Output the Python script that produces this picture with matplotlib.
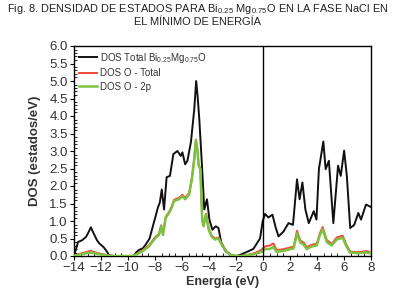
import matplotlib
matplotlib.use("Agg")
import matplotlib.pyplot as plt
from matplotlib.ticker import MultipleLocator

# ---------------- data ----------------
E_total = [-14, -13.85, -13.7, -13.4, -13.1, -12.9, -12.75, -12.55, -12.3, -12.1, -11.8, -11.55,
           -11.4, -11.0, -10.0, -9.6, -9.4, -9.2, -8.9, -8.7, -8.4, -8.23, -7.96, -7.79, -7.64,
           -7.5, -7.33, -7.14, -6.89, -6.64, -6.34, -6.09, -5.97, -5.77, -5.6, -5.34, -5.09,
           -4.95, -4.85, -4.72, -4.52, -4.35, -4.15, -3.97, -3.75, -3.5, -3.3, -3.1, -2.8, -2.4,
           -2.0, -1.7, -1.3, -0.72, -0.22, -0.02, 0.15, 0.4, 0.7, 0.95, 1.15, 1.52, 1.89, 2.22,
           2.52, 2.71, 2.92, 3.14, 3.39, 3.76, 3.96, 4.14, 4.47, 4.64, 4.88, 5.21, 5.56, 5.76,
           6.01, 6.21, 6.46, 6.76, 7.06, 7.26, 7.63, 8.0]
dos_total = [0.0, 0.2, 0.4, 0.45, 0.55, 0.7, 0.82, 0.65, 0.45, 0.35, 0.25, 0.12,
             0.02, 0.0, 0.0, 0.0, 0.1, 0.17, 0.22, 0.32, 0.5, 0.75, 1.13, 1.38, 1.53,
             1.9, 1.33, 2.25, 2.29, 2.91, 3.0, 2.86, 2.96, 2.62, 2.72, 3.25, 4.2,
             5.0, 4.6, 3.92, 2.58, 1.33, 1.62, 1.04, 0.75, 0.85, 0.8, 0.4, 0.15, 0.03,
             0.0, 0.03, 0.1, 0.2, 0.5, 1.0, 1.2, 1.1, 1.18, 0.8, 0.56, 0.7, 0.94, 0.89,
             2.19, 1.62, 2.1, 1.33, 0.94, 1.28, 1.04, 2.48, 3.27, 2.48, 2.72, 0.94, 2.58, 2.29,
             3.01, 2.29, 0.8, 0.89, 1.23, 1.04, 1.47, 1.4]

E_o = [-14, -13.6, -13.2, -12.75, -12.4, -12.0, -11.6, -11.3, -10.0, -9.7, -9.4, -9.0, -8.7,
       -8.46, -8.2, -7.96, -7.71, -7.54, -7.41, -7.21, -6.96, -6.8, -6.59, -6.4, -6.22, -5.97,
       -5.77, -5.6, -5.47, -5.27, -5.09, -4.97, -4.85, -4.77, -4.64, -4.5, -4.4, -4.22, -4.02,
       -3.8, -3.55, -3.3, -3.0, -2.7, -2.4, -2.0, -1.6, -1.2, -0.8, -0.4, -0.1, 0.0, 0.2, 0.5,
       0.77, 1.0, 1.3, 1.77, 2.27, 2.52, 2.77, 3.02, 3.24, 3.6, 3.98, 4.22, 4.42, 4.72, 5.09,
       5.46, 5.9, 6.15, 6.44, 7.0, 7.68, 8.0]
dos_o_2p = [0.0, 0.04, 0.07, 0.1, 0.07, 0.04, 0.02, 0.0, 0.0, 0.0, 0.04, 0.12, 0.2,
            0.27, 0.4, 0.52, 0.6, 0.85, 0.6, 1.09, 1.23, 1.35, 1.57, 1.6, 1.62, 1.71,
            1.62, 1.7, 1.76, 2.19, 2.77, 3.3, 3.0, 2.58, 2.48, 1.0, 0.85, 1.18, 0.75,
            0.55, 0.47, 0.5, 0.28, 0.12, 0.03, 0.0, 0.0, 0.02, 0.04, 0.08, 0.12, 0.15, 0.2, 0.2,
            0.26, 0.12, 0.13, 0.17, 0.22, 0.65, 0.38, 0.32, 0.2, 0.27, 0.3, 0.6, 0.77, 0.4, 0.3,
            0.47, 0.52, 0.3, 0.1, 0.08, 0.1, 0.07]
dos_o_total = [0.0, 0.06, 0.1, 0.15, 0.1, 0.06, 0.03, 0.0, 0.0, 0.0, 0.05, 0.14, 0.23,
               0.3, 0.43, 0.55, 0.63, 0.88, 0.63, 1.12, 1.26, 1.38, 1.6, 1.64, 1.66, 1.75,
               1.66, 1.74, 1.8, 2.23, 2.8, 3.33, 3.03, 2.61, 2.51, 1.03, 0.88, 1.21, 0.78,
               0.58, 0.5, 0.53, 0.31, 0.14, 0.04, 0.0, 0.0, 0.03, 0.06, 0.12, 0.18, 0.22, 0.28, 0.3,
               0.36, 0.18, 0.18, 0.22, 0.27, 0.72, 0.44, 0.38, 0.25, 0.32, 0.35, 0.66, 0.83, 0.46, 0.34,
               0.53, 0.58, 0.35, 0.13, 0.11, 0.14, 0.1]

labels = ["DOS Total Bi$_{0.25}$Mg$_{0.75}$O", "DOS O - Total", "DOS O - 2p"]
title = "Fig. 8. DENSIDAD DE ESTADOS PARA Bi$_{0.25}$ Mg$_{0.75}$O EN LA FASE NaCl EN\nEL MÍNIMO DE ENERGÍA"

# ---------------- style ----------------
plt.rcParams['font.family'] = ['Liberation Sans', 'DejaVu Sans']
plt.rcParams['mathtext.fontset'] = 'custom'
plt.rcParams['mathtext.rm'] = 'Liberation Sans'
plt.rcParams['mathtext.it'] = 'Liberation Sans'
plt.rcParams['mathtext.default'] = 'regular'

fig = plt.figure(figsize=(3.96, 2.99), dpi=100)
ax = fig.add_axes([74/396, 1-256/299, (371-74)/396, (256-46)/299])

ax.plot(E_total, dos_total, color='#111111', lw=1.4, label=labels[0], zorder=3)
ax.plot(E_o, dos_o_total, color='#ee4b36', lw=1.4, label=labels[1], zorder=4)
ax.plot(E_o, dos_o_2p, color='#7cc242', lw=1.8, label=labels[2], zorder=5)
ax.axvline(0, color='black', lw=1.0, zorder=6)

ax.set_xlim(-14, 8)
ax.set_ylim(0, 6)
ax.xaxis.set_major_locator(MultipleLocator(2))
ax.xaxis.set_minor_locator(MultipleLocator(0.5))
ax.yaxis.set_major_locator(MultipleLocator(0.5))
ax.yaxis.set_minor_locator(MultipleLocator(0.1))
ax.tick_params(which='major', direction='out', length=3, width=0.8, labelsize=9.5,
               labelcolor='#333333', pad=1.5)
ax.tick_params(which='minor', direction='in', length=2, width=0.6)
ax.set_yticklabels([f"{v:.1f}" for v in ax.get_yticks()])
for s in ax.spines.values():
    s.set_linewidth(1.0)

ax.set_xlabel("Energía (eV)", fontsize=9, fontweight='bold', color='#333333', labelpad=1)
ax.set_ylabel("DOS (estados/eV)", fontsize=9.5, fontweight='bold', color='#333333', labelpad=6)

leg = ax.legend(loc='upper left', frameon=False, fontsize=7, handlelength=1.85,
                handletextpad=0.3, borderaxespad=0.2, labelspacing=0.35,
                borderpad=0.3, bbox_to_anchor=(0.0, 1.0))
for t in leg.get_texts():
    t.set_color('#333333')

fig.text(0.5, 1-2/299, title, ha='center', va='top', fontsize=7.9,
         color='#222222', linespacing=1.1)

fig.savefig("out.png", dpi=100)
